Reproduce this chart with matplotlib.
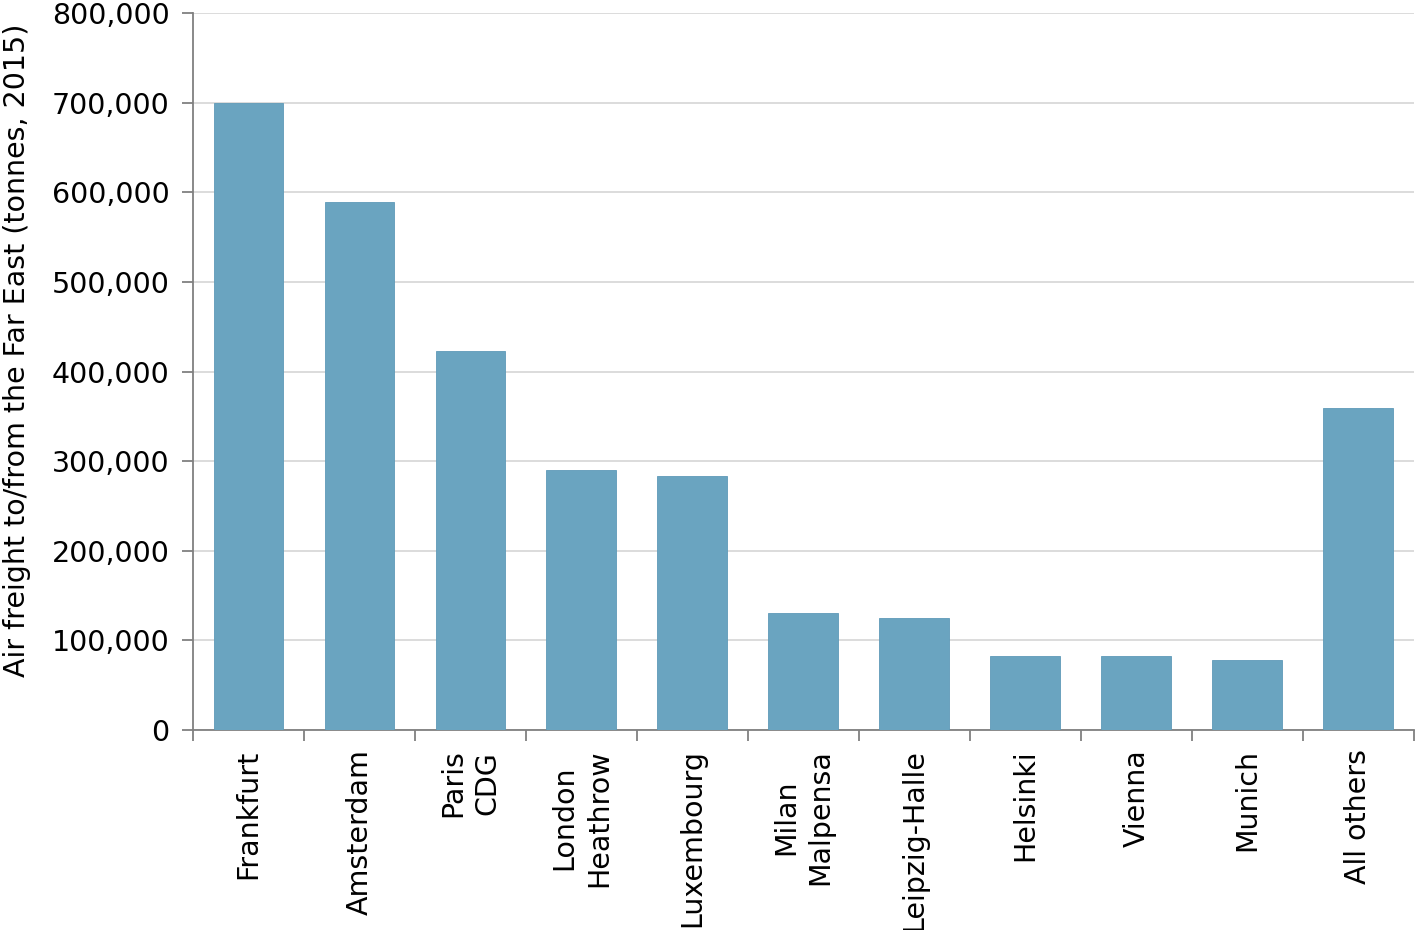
import numpy as np
import matplotlib
matplotlib.use('Agg')
import matplotlib.pyplot as plt
from matplotlib.ticker import FuncFormatter, FixedLocator

airports = ['Frankfurt', 'Amsterdam', 'Paris\nCDG', 'London\nHeathrow', 'Luxembourg',
            'Milan\nMalpensa', 'Leipzig-Halle', 'Helsinki', 'Vienna', 'Munich', 'All others']
freight = [700000, 589000, 423000, 290000, 283000, 131000, 125000, 83000, 83000, 78000, 359000]

plt.rcParams['font.family'] = ['DejaVu Sans']
fs = 20.5

fig = plt.figure(figsize=(14.18, 9.3), dpi=100)
ax = fig.add_axes([0.1361, 0.215, 0.861, 0.771])

x = np.arange(len(airports))
ax.bar(x, freight, width=0.63, color='#6aa4c0', edgecolor='#5e9ab8', linewidth=0.6, zorder=3)

ax.set_xlim(-0.5, len(airports) - 0.5)
ax.set_ylim(0, 800000)
ax.set_yticks(np.arange(0, 800001, 100000))
ax.yaxis.set_major_formatter(FuncFormatter(lambda v, p: f'{int(v):,}'))
ax.grid(axis='y', color='#d9d9d9', linewidth=1.3, zorder=0)

# category labels at bar centers, tick marks at boundaries
ax.set_xticks(x)
ax.set_xticklabels(airports, rotation=90, ha='center', va='top', multialignment='center',
                   fontsize=fs, linespacing=1.3)
ax.tick_params(axis='x', length=0, pad=14)
ax.xaxis.set_minor_locator(FixedLocator(np.arange(-0.5, len(airports), 1)))
ax.tick_params(axis='x', which='minor', length=8, color='#808080', width=1.3)
ax.tick_params(axis='y', length=8, color='#808080', width=1.3, labelsize=fs, pad=9)

for s in ['top', 'right']:
    ax.spines[s].set_visible(False)
for s in ['left', 'bottom']:
    ax.spines[s].set_color('#808080')
    ax.spines[s].set_linewidth(1.3)

ax.set_ylabel('Air freight to/from the Far East (tonnes, 2015)', fontsize=fs)
ax.yaxis.set_label_coords(-0.133, 0.53)

plt.savefig('out.png', dpi=100)
